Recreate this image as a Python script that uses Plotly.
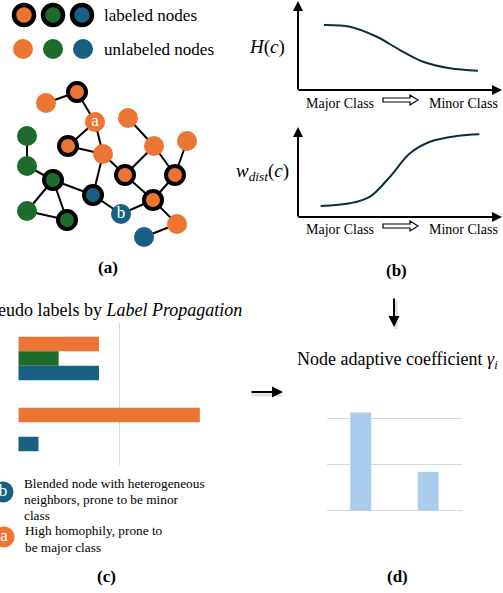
import plotly.graph_objects as go

W, H = 503, 593
SERIF = "Liberation Serif"
ORANGE = "#EC7533"
GREEN = "#1F6B2B"
BLUE = "#185F82"
LIGHTBLUE = "#A9CBEC"
NAVY = "#0F2D40"
GRID = "#D9D9D9"
CLS_COLOR = {"o": ORANGE, "g": GREEN, "b": BLUE}

# ---------------- panel (a): graph ----------------
node_x = [46, 77, 95, 128, 27, 68, 103, 154, 187, 27, 53, 125, 175, 93, 153, 27, 121, 67, 177, 144]
node_y = [103, 92, 122, 118, 136, 146, 154, 146, 141, 166, 180, 175, 175, 195, 200, 211, 214, 220, 224, 237]
node_cls = ["o", "o", "o", "o", "g", "o", "o", "o", "o", "g", "g", "o", "o", "b", "o", "g", "b", "g", "o", "b"]
node_labeled = [0, 1, 0, 0, 0, 1, 0, 0, 0, 0, 1, 1, 1, 1, 1, 0, 0, 1, 0, 0]
node_text = ["", "", "a", "", "", "", "", "", "", "", "", "", "", "", "", "", "b", "", "", ""]
edges = [(0, 1), (1, 2), (2, 5), (2, 6), (5, 6), (6, 13), (6, 11), (3, 7), (7, 11), (7, 12),
         (8, 12), (12, 14), (11, 14), (14, 16), (14, 18), (13, 16), (10, 13), (4, 9), (9, 10),
         (10, 15), (10, 17), (15, 17), (18, 19)]

legend_classes = ["o", "g", "b"]
legend_lab_x = [24, 53, 82]
legend_unl_x = [23, 53, 83]
legend_y = [15, 49]
legend_labels = ["labeled nodes", "unlabeled nodes"]

# ---------------- panel (b): curves ----------------
h_x = [0.127, 0.255, 0.386, 0.5, 0.613, 0.745, 0.882]
h_y = [0.722, 0.703, 0.592, 0.444, 0.314, 0.241, 0.214]
w_x = [0.111, 0.255, 0.353, 0.451, 0.549, 0.647, 0.778, 0.889]
w_y = [0.12, 0.149, 0.221, 0.438, 0.692, 0.818, 0.88, 0.899]
b_dot_x = [0.21, 0.505, 0.80]

# ---------------- panel (c): pseudo label bars ----------------
c_nodes = ["b", "a"]
c_orange = [0.8, 1.8]
c_green = [0.4, 0.0]
c_blue = [0.8, 0.2]

# ---------------- panel (d): node adaptive coefficient ----------------
d_nodes = ["b", "a"]
d_gamma = [2.14, 0.85]


def px_dom_x(a, b):
    return [a / W, b / W]


def px_dom_y(top, bottom):
    return [1 - bottom / H, 1 - top / H]


fig = go.Figure()

# canvas (pixel) layer
ex, ey = [], []
for i, j in edges:
    ex += [node_x[i], node_x[j], None]
    ey += [node_y[i], node_y[j], None]
fig.add_trace(go.Scatter(x=ex, y=ey, mode="lines", line=dict(color="black", width=2),
                         xaxis="x", yaxis="y", hoverinfo="skip"))
unl = [k for k in range(len(node_x)) if not node_labeled[k]]
lab = [k for k in range(len(node_x)) if node_labeled[k]]
fig.add_trace(go.Scatter(
    x=[node_x[k] for k in lab], y=[node_y[k] for k in lab], mode="markers",
    marker=dict(size=18, color=[CLS_COLOR[node_cls[k]] for k in lab], line=dict(color="black", width=4)),
    xaxis="x", yaxis="y"))
fig.add_trace(go.Scatter(
    x=[node_x[k] for k in unl], y=[node_y[k] for k in unl], mode="markers+text",
    text=[node_text[k] for k in unl], textposition="middle center",
    textfont=dict(family=SERIF, size=17, color="white"),
    marker=dict(size=20, color=[CLS_COLOR[node_cls[k]] for k in unl], line=dict(width=0)),
    xaxis="x", yaxis="y"))
# legend
fig.add_trace(go.Scatter(
    x=legend_lab_x, y=[legend_y[0]] * 3, mode="markers",
    marker=dict(size=20, color=[CLS_COLOR[c] for c in legend_classes], line=dict(color="black", width=4.5)),
    xaxis="x", yaxis="y"))
fig.add_trace(go.Scatter(
    x=legend_unl_x, y=[legend_y[1]] * 3, mode="markers",
    marker=dict(size=20, color=[CLS_COLOR[c] for c in legend_classes], line=dict(width=0)),
    xaxis="x", yaxis="y"))
# panel c legend circles
fig.add_trace(go.Scatter(
    x=[3, 4], y=[492, 537], mode="markers+text", text=["b", "a"], textposition="middle center",
    textfont=dict(family=SERIF, size=17, color="white"),
    marker=dict(size=21, color=[BLUE, ORANGE]), xaxis="x", yaxis="y"))

# panel b curves
fig.add_trace(go.Scatter(x=h_x, y=h_y, mode="lines", line=dict(color=NAVY, width=2, shape="spline"),
                         xaxis="x2", yaxis="y2"))
fig.add_trace(go.Scatter(x=w_x, y=w_y, mode="lines", line=dict(color=NAVY, width=2, shape="spline"),
                         xaxis="x3", yaxis="y3"))
for xa, ya in (("x2", "y2"), ("x3", "y3")):
    fig.add_trace(go.Scatter(x=b_dot_x, y=[-0.25] * 3, mode="markers", cliponaxis=False,
                             marker=dict(size=13, color=[ORANGE, GREEN, BLUE]),
                             xaxis=xa, yaxis=ya))

# panel c bars
for vals, col in ((c_orange, ORANGE), (c_green, GREEN), (c_blue, BLUE)):
    fig.add_trace(go.Bar(y=c_nodes, x=vals, orientation="h", marker=dict(color=col, line=dict(width=0)),
                         xaxis="x4", yaxis="y4"))

# panel d bars
fig.add_trace(go.Bar(x=d_nodes, y=d_gamma, width=0.31, marker=dict(color=LIGHTBLUE, line=dict(width=0)),
                     xaxis="x5", yaxis="y5"))
fig.add_trace(go.Scatter(x=d_nodes, y=[-0.49, -0.49], mode="markers+text", text=d_nodes,
                         textposition="middle center", cliponaxis=False,
                         textfont=dict(family=SERIF, size=17, color="white"),
                         marker=dict(size=21, color=[BLUE, ORANGE]), xaxis="x5", yaxis="y5"))

hidden = dict(visible=False, fixedrange=True)
fig.update_layout(
    width=W, height=H, margin=dict(l=0, r=0, t=0, b=0),
    paper_bgcolor="white", plot_bgcolor="rgba(0,0,0,0)", showlegend=False,
    barmode="group", bargap=0.387, bargroupgap=0,
    xaxis=dict(domain=[0, 1], range=[0, W], **hidden),
    yaxis=dict(domain=[0, 1], range=[H, 0], **hidden),
    xaxis2=dict(domain=px_dom_x(298, 502), range=[0, 1], anchor="y2", **hidden),
    yaxis2=dict(domain=px_dom_y(0, 90), range=[0, 1], anchor="x2", **hidden),
    xaxis3=dict(domain=px_dom_x(298, 502), range=[0, 1], anchor="y3", **hidden),
    yaxis3=dict(domain=px_dom_y(125, 217), range=[0, 1], anchor="x3", **hidden),
    xaxis4=dict(domain=px_dom_x(18.3, 220), range=[0, 2], anchor="y4", dtick=1, showgrid=True,
                gridcolor=GRID, gridwidth=1, zeroline=False, showticklabels=False, showline=False,
                fixedrange=True),
    yaxis4=dict(domain=px_dom_y(323, 465), anchor="x4", autorange="reversed", showgrid=False,
                showticklabels=False, showline=False, zeroline=False, fixedrange=True),
    xaxis5=dict(domain=px_dom_x(327, 462), anchor="y5", showgrid=False, showticklabels=False,
                showline=False, zeroline=False, fixedrange=True),
    yaxis5=dict(domain=px_dom_y(373, 510.7), range=[0, 3], anchor="x5", dtick=1, showgrid=True,
                gridcolor=GRID, gridwidth=1, zeroline=True, zerolinecolor=GRID, zerolinewidth=1,
                showticklabels=False, showline=False, fixedrange=True),
)

ann = []


def text(x, y, s, size, xanchor="center", **kw):
    ann.append(dict(x=x, y=y, xref="x", yref="y", text=s, showarrow=False, xanchor=xanchor,
                    yanchor="middle", font=dict(family=SERIF, size=size, color="black"), **kw))


def arrow(x0, y0, x1, y1, width=2, head=2, size=1.0, color="black"):
    ann.append(dict(x=x1, y=y1, ax=x0, ay=y0, xref="x", yref="y", axref="x", ayref="y", text="",
                    showarrow=True, arrowhead=head, arrowsize=size, arrowwidth=width,
                    arrowcolor=color, standoff=0, startstandoff=0))


# panel a texts
for lbl, yv in zip(legend_labels, legend_y):
    text(102, yv, lbl, 17, xanchor="left")
text(108, 267, "<b>(a)</b>", 17)

# panel b
arrow(298, 91, 298, 1)
arrow(297, 90, 502, 90)
arrow(298, 218, 298, 127)
arrow(297, 217, 502, 217)
text(267, 47, "<i>H</i>(<i>c</i>)", 19)
text(262, 172, "<i>w</i><sub><i>dist</i></sub>(<i>c</i>)", 19)
for yv in (103, 229):
    text(340, yv, "Major Class", 14)
    text(463, yv, "Minor Class", 14)
text(396, 270, "<b>(b)</b>", 17)

# panel c
text(244, 310, "Pseudo labels by <i>Label Propagation</i>", 18, xanchor="right")
for s, yv in zip(["Blended node with heterogeneous", "neighbors, prone to be minor", "class"],
                 [483, 499, 515]):
    text(22, yv, s, 13.3, xanchor="left")
for s, yv in zip(["High homophily, prone to", "be major class"], [530, 547]):
    text(23, yv, s, 13.3, xanchor="left")
text(106, 576, "<b>(c)</b>", 17)

# panel d
text(397, 360, "Node adaptive coefficient <i>γ</i><sub><i>i</i></sub>", 18)
text(397, 576, "<b>(d)</b>", 17)

# connecting arrows (with soft shadow)
arrow(250, 395, 282, 395, width=3, head=0, color="rgba(0,0,0,0.12)")
arrow(250, 392, 283, 392, width=2, head=2, size=1.1)
arrow(396, 299, 396, 329, width=3, head=0, color="rgba(0,0,0,0.12)")
arrow(394, 297, 394, 327, width=2, head=2, size=1.1)

fig.update_layout(annotations=ann)

# hollow arrows between "Major Class" and "Minor Class"
shapes = []
for yc in (100, 226):
    path = (f"M383,{yc-2} L410,{yc-2} L410,{yc-5} L418,{yc} L410,{yc+5} L410,{yc+2} L383,{yc+2} Z")
    shapes.append(dict(type="path", path=path, xref="x", yref="y", line=dict(color="black", width=1.2),
                       fillcolor="white"))
fig.update_layout(shapes=shapes)

fig.write_html("out.html", config={"displayModeBar": False},
               post_script="document.body.style.margin='0';document.body.style.padding='0';")
